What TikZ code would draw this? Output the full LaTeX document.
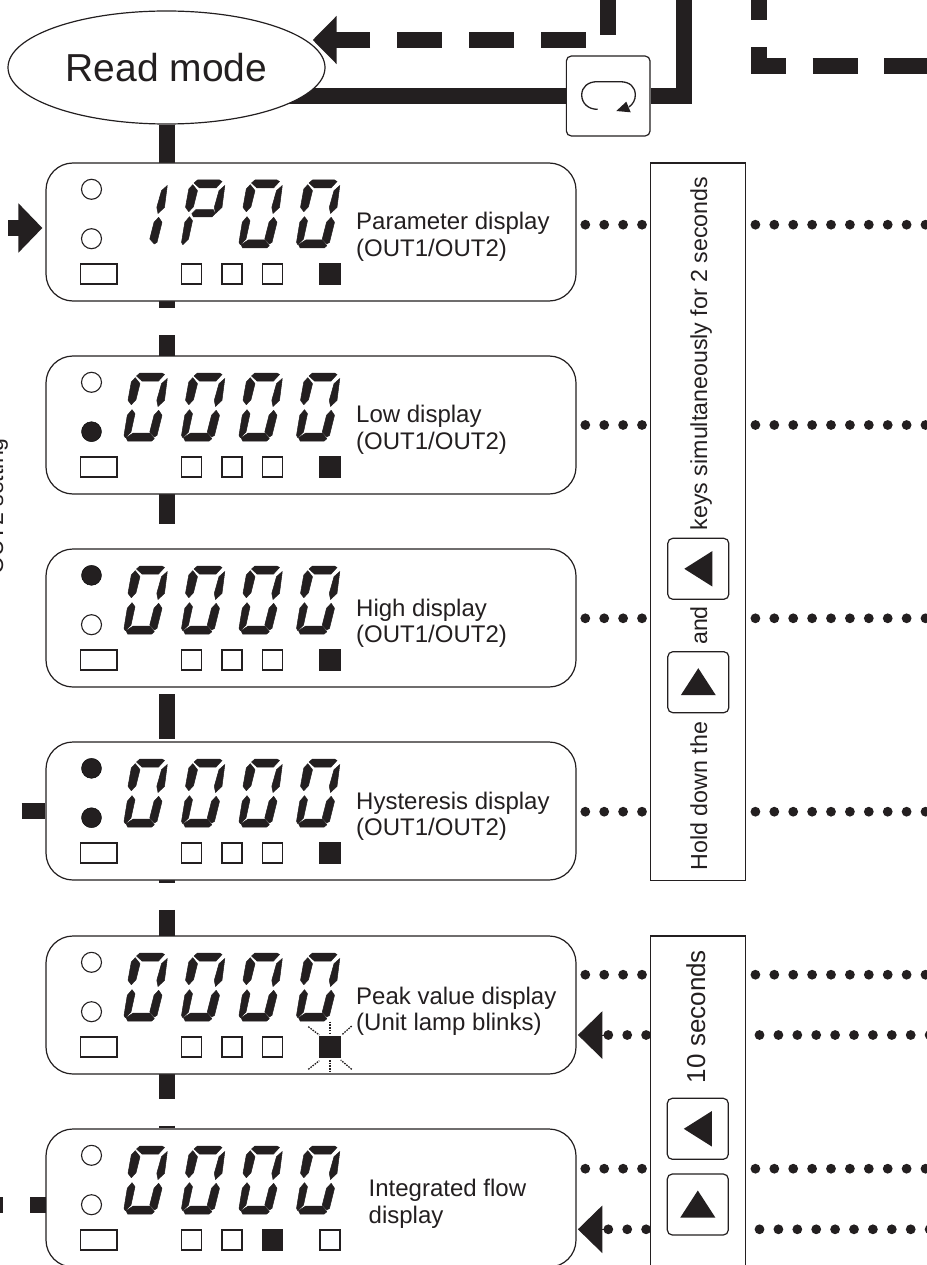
\documentclass[tikz,border=0pt]{standalone}
\usepackage{xcolor}
\usepackage{fontspec}
\setmainfont{Liberation Sans}
\usepackage{tikz}
\usetikzlibrary{shapes.geometric, arrows.meta, backgrounds}

\definecolor{ink}{HTML}{231F20}

\tikzset{
    paneltext/.style={font=\fontsize{24}{26.5}\selectfont, text=ink, inner sep=0pt, align=left, anchor=base west},
    sidetext/.style={font=\fontsize{23.2}{26}\selectfont, text=ink, inner sep=0pt, rotate=90, anchor=base},
    panelbox/.style={draw=ink, line width=1.2pt, fill=white, rounded corners=27pt, minimum width=530pt, minimum height=138pt, inner sep=0pt},
    tallbox/.style={draw=ink, line width=1.2pt, fill=white, minimum width=95pt, inner sep=0pt},
    keybox/.style={draw=ink, line width=1.2pt, fill=white, rounded corners=5pt, minimum width=61pt, minimum height=61pt, inner sep=0pt},
    flowline/.style={draw=ink, line width=16pt},
    flowdash/.style={flowline, dash pattern=on 45pt off 26.85pt},
    dotrow/.style={draw=ink, line width=9.8pt, line cap=round, dash pattern=on 0pt off 18.9pt},
    backtip/.style={draw=ink, fill=ink, line width=1pt, shorten >=1.3pt, -{Triangle[length=24.4pt,width=47.4pt]}},
    ledoff/.style={draw=ink, line width=1.1pt, fill=white},
    ledon/.style={fill=ink},
    lampbox/.style={draw=ink, line width=1.2pt, fill=white},
    blinkray/.style={draw=ink, line width=1.3pt, dash pattern=on 1.6pt off 1.1pt},
    % seven segments, from the top left corner of a digit
    sega/.style={insert path={(12.5,3)--(16,0)--(38,0)--(40.5,1.5)--(34.5,8)--(18,8)--cycle}},
    segb/.style={insert path={(43.3,5.5)--(37.5,10.7)--(32.8,27.3)--(34,33.5)--(40.5,27.3)--cycle}},
    segc/.style={insert path={(34.7,37.3)--(30,42.3)--(25.8,59)--(30.3,64)--(33,62.3)--(38,42.3)--cycle}},
    segd/.style={insert path={(2,64.7)--(9.3,60)--(26,60)--(30.3,65.7)--(27.7,68)--(3.7,68)--cycle}},
    sege/.style={insert path={(8,36.7)--(3.3,42.3)--(0,62.3)--(1.3,64.7)--(7,59)--(11,40.7)--cycle}},
    segf/.style={insert path={(11.3,4.7)--(7.3,9)--(4,27.3)--(7.3,31.7)--(12,26.7)--(16,10.7)--cycle}},
    segg/.style={insert path={(10.3,33.7)--(14.3,29.7)--(31.9,29.7)--(33.6,33.7)--(30.3,37)--(11.9,37)--cycle}},
    uptri/.pic={\fill[ink] (-17.5,13) -- (17.5,13) -- (0,-14) -- cycle;},
    lefttri/.pic={\fill[ink] (-14,0) -- (14,-17.7) -- (14,17.7) -- cycle;}
}

% one digit: x, y of its corner, list of lit segments
\newcommand{\lcddigit}[3]{
    \begin{scope}[shift={(#1,#2)}]
        \foreach \s in {#3} {\filldraw[ink, line width=0.5pt, line join=round, seg\s];}
    \end{scope}
}
\newcommand{\lcdzero}[2]{\lcddigit{#1}{#2}{a,b,c,d,e,f}}

% name, top edge, upper led, lower led, x of the lit lamp
\newcommand{\readpanel}[5]{
    \node[panelbox] (#1) at (311,#2+69) {};
    \begin{scope}[shift={(0,#2)}]
        \draw[#3] (91.5,26.3) circle (10);
        \draw[#4] (91.5,75.7) circle (10);
        \draw[lampbox] (80.5,101) rectangle (117,121);
        \foreach \lampx in {181.5, 222, 262.5, 320} {
            \draw[lampbox] (\lampx,101) rectangle ++(20,20);
        }
        \fill[ink] (#5-0.5,100.5) rectangle ++(21,21);
    \end{scope}
}
\newcommand{\fourzeros}[1]{
    \foreach \digitx in {124, 181.5, 239, 296.5} {\lcdzero{\digitx}{#1+17}}
}

\begin{document}
\begin{tikzpicture}[x=1pt, y=-1pt]
    \useasboundingbox (0,0) rectangle (926,1265);

    % Mode ellipse and rotary key
    \node[ellipse, draw=ink, line width=1.2pt, fill=white, text=ink, font=\fontsize{39}{39}\selectfont, minimum width=317pt, minimum height=113pt, inner sep=0pt] (readmode) at (166.5,67.5) {Read mode};
    \node[keybox, minimum width=83.7pt, minimum height=80pt] (loopkey) at (608.2,96) {};
    \draw[ink, line width=1.3pt] (597.7,109.3) .. controls (588,109.5) and (581.7,103) .. (581.7,95) .. controls (581.7,87) and (588,81.7) .. (597,81.7) -- (620,81.7) .. controls (630,81.7) and (635.3,87) .. (635.3,95) .. controls (635.3,100) and (633,104) .. (629,107);
    \fill[ink] (616.3,111) -- (626.3,101.7) -- (630.7,112.3) -- cycle;

    % Display panels
    \readpanel{panel1}{163}{ledoff}{ledoff}{320}
    \readpanel{panel2}{356}{ledoff}{ledon}{320}
    \readpanel{panel3}{549}{ledon}{ledoff}{320}
    \readpanel{panel4}{742}{ledon}{ledon}{320}
    \readpanel{panel5}{936}{ledoff}{ledoff}{320}
    \readpanel{panel6}{1129}{ledoff}{ledoff}{262.5}

    % Digits
    \lcddigit{124}{180}{b,c}
    \lcddigit{181.5}{180}{a,b,e,f,g}
    \lcdzero{239}{180}
    \lcdzero{296.5}{180}
    \fourzeros{356}
    \fourzeros{549}
    \fourzeros{742}
    \fourzeros{936}
    \fourzeros{1129}

    % Blinking unit lamp
    \draw[blinkray] (330,1021.7) -- (330,1035);
    \draw[blinkray] (330,1060) -- (330,1073.3);
    \draw[blinkray] (308.3,1026.7) -- (319.3,1035);
    \draw[blinkray] (351.7,1026) -- (341.7,1035);
    \draw[blinkray] (308.3,1069.3) -- (319.3,1060.7);
    \draw[blinkray] (351.7,1069.3) -- (340.7,1060);

    % Panel labels
    \node[paneltext] (label1) at (356,256) {Parameter display\\(OUT1/OUT2)};
    \node[paneltext] (label2) at (356,449.2) {Low display\\(OUT1/OUT2)};
    \node[paneltext] (label3) at (356,642.5) {High display\\(OUT1/OUT2)};
    \node[paneltext] (label4) at (356,835.5) {Hysteresis display\\(OUT1/OUT2)};
    \node[paneltext] (label5) at (356,1030.5) {Peak value display\\(Unit lamp blinks)};
    \node[paneltext] (label6) at (368.5,1223.2) {Integrated flow\\display};
    \node[sidetext] (out2label) at (3,506.5) {OUT2 setting};

    % Tall boxes with the key instructions
    \node[tallbox, minimum height=717.5pt] (holdpanel) at (697.8,521.8) {};
    \node[tallbox, minimum height=340pt] (peakpanel) at (697.8,1106) {};
    \node[sidetext] (holdtext) at (707,796) {Hold down the};
    \node[sidetext] (andtext) at (707,625.5) {and};
    \node[sidetext] (keystext) at (707,353.5) {keys simultaneously for 2 seconds};
    \node[sidetext, font=\fontsize{26}{28}\selectfont] (peaktext) at (705,1016.5) {10 seconds};
    \node[keybox] (holdup) at (698.3,682.2) {};
    \node[keybox] (holdleft) at (698.3,568.8) {};
    \node[keybox] (peakleft) at (697.8,1128.8) {};
    \node[keybox] (peakup) at (697.8,1204.5) {};
    \pic at (holdup) {uptri};
    \pic at (holdleft) {lefttri};
    \pic at (peakleft) {lefttri};
    \pic at (peakup) {uptri};

    % Free ends of the connectors
    \coordinate (loopout) at (683.5,-2);
    \coordinate (readin) at (312.7,40);
    \coordinate (backtop) at (608,0);
    \coordinate (nexttop) at (759,0);
    \coordinate (nextright) at (940,65.7);
    \coordinate (panelin) at (8,228);
    \coordinate (hystin) at (21.5,811);
    \coordinate (flowout) at (46,1205);
    \coordinate (flowend) at (-30,1205);
    \coordinate (rightedge) at (940,0);
    \coordinate (row1) at (585.3,224.7);
    \coordinate (row2) at (585.3,425);
    \coordinate (row3) at (585.3,618.3);
    \coordinate (row4) at (585.3,811.7);
    \coordinate (row5) at (585.3,974.7);
    \coordinate (row5b) at (608.3,1035);
    \coordinate (row6) at (585.3,1168.7);
    \coordinate (row6b) at (608.3,1229.3);

    \begin{scope}[on background layer]
        % Solid and dashed flow lines
        \draw[flowline] (loopkey.west) -- (loopkey.west -| readmode.center);
        \draw[flowline] (loopkey.east) -| (loopout);
        \draw[flowdash, dash phase=5pt] (readmode.south) -- (readmode.south |- panel6.north);
        \draw[flowdash, dash phase=9.5pt, -{Triangle[length=24pt,width=47pt]}] (backtop) |- (readin);
        \draw[flowdash, dash phase=24.5pt] (nexttop) |- (nextright);
        \draw[flowline, -{Triangle[length=24pt,width=48pt]}, shorten >=3pt] (panelin) -- (panelin -| panel1.west);
        \draw[flowline] (hystin) -- (panel4.west);
        \draw[flowdash, dash phase=28.5pt] (flowout) -- (flowend);

        % Dotted rows
        \foreach \rowname in {row1, row2, row3, row4, row5, row5b, row6, row6b} {
            \draw[dotrow] (\rowname) -- (\rowname -| rightedge);
        }
        \draw[backtip] (row5b) -- (row5b -| panel5.east);
        \draw[backtip] (row6b) -- (row6b -| panel6.east);
    \end{scope}
\end{tikzpicture}
\end{document}
